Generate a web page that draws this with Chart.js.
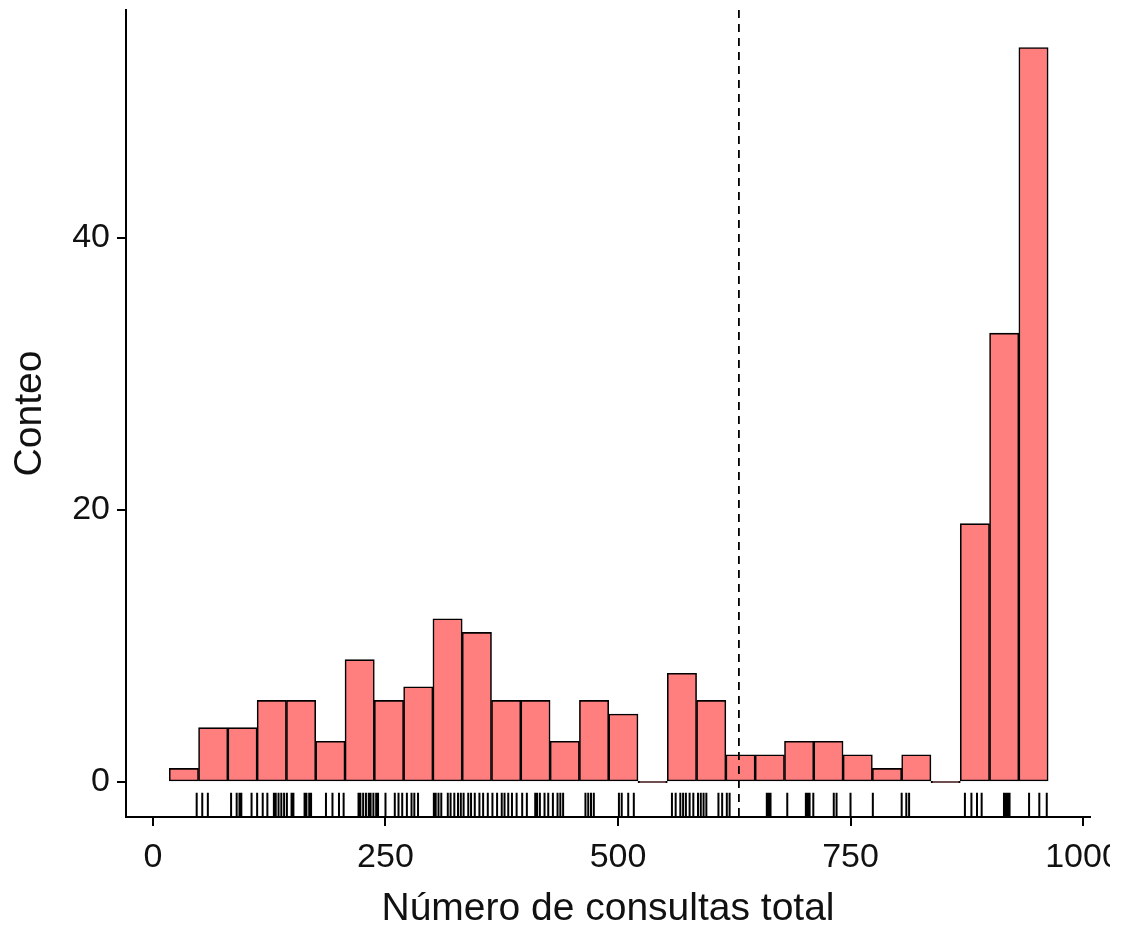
<!DOCTYPE html>
<html lang="es">
<head>
    <meta charset="UTF-8">
    <meta name="viewport" content="width=device-width, initial-scale=1.0">
    <title>Número de consultas total</title>
    <style type="text/css">
        html, body { margin:0; padding:0; background:#fff; }
        .chartBox { width:1110px; height:928px; overflow:hidden; }
        canvas { display:block; }
    </style>
</head>
<body>

<div class="chartBox">
    <canvas id="myChart" width="1124" height="928"></canvas>
</div>

<script src="https://cdn.jsdelivr.net/npm/chart.js"></script>
<script>
// centro de cada intervalo del histograma (30 intervalos)
const binCenters = [33.25, 64.75, 96.25, 127.75, 159.25, 190.75, 222.25, 253.75, 285.25, 316.75,
                    348.25, 379.75, 411.25, 442.75, 474.25, 505.75, 537.25, 568.75, 600.25, 631.75,
                    663.25, 694.75, 726.25, 757.75, 789.25, 820.75, 852.25, 883.75, 915.25, 946.75];
const counts = [1, 4, 4, 6, 6, 3, 9, 6, 7, 12,
                11, 6, 6, 3, 6, 5, 0, 8, 6, 2,
                2, 3, 3, 2, 1, 2, 0, 19, 33, 54];

// valores individuales para el rug
const consultas = [47, 53, 59, 84, 90, 93, 95, 106, 112, 118, 123, 130, 132, 135, 138, 141, 144, 149,
                   151, 163, 165, 168, 170, 186, 193, 200, 205, 221, 223, 226, 229, 232, 234, 237, 240,
                   242, 250, 260, 264, 268, 273, 278, 281, 285, 302, 304, 307, 310, 317, 320, 324, 328,
                   331, 334, 339, 342, 346, 351, 355, 360, 365, 370, 375, 378, 382, 386, 391, 397, 402,
                   411, 413, 416, 421, 425, 430, 435, 438, 441, 465, 468, 471, 474, 501, 504, 511, 517,
                   558, 562, 567, 570, 573, 577, 581, 586, 589, 592, 595, 608, 612, 617, 620, 660, 662,
                   664, 682, 702, 704, 706, 710, 732, 735, 750, 774, 805, 810, 813, 873, 880, 886, 891,
                   915, 917, 919, 921, 942, 953, 961];
const meanConsultas = 630;

const xTicks = [0, 250, 500, 750, 1000];
const yTicks = [0, 20, 40];

const histData = binCenters.map((c, i) => ({ x: c, y: counts[i] }));

// rug en la base del panel + línea discontinua de la media
const rugPlugin = {
    id: 'rugMean',
    afterDatasetsDraw(chart) {
        const { ctx, chartArea, scales } = chart;
        const len = (chartArea.bottom - chartArea.top) * 0.03;
        ctx.save();
        ctx.strokeStyle = '#000';
        ctx.lineWidth = 2;
        ctx.beginPath();
        consultas.forEach(v => {
            const x = scales.x.getPixelForValue(v);
            ctx.moveTo(x, chartArea.bottom);
            ctx.lineTo(x, chartArea.bottom - len);
        });
        ctx.stroke();

        const mx = scales.x.getPixelForValue(meanConsultas);
        ctx.setLineDash([8, 6]);
        ctx.lineWidth = 1.8;
        ctx.beginPath();
        ctx.moveTo(mx, chartArea.top);
        ctx.lineTo(mx, chartArea.bottom);
        ctx.stroke();
        ctx.restore();
    }
};

const font = { family: "'Liberation Sans', Arial, sans-serif" };
const textColor = '#111';

// ejes sin márgenes extra: el área del gráfico queda fija
const noPad = s => { s.paddingTop = 0; s.paddingBottom = 0; s.paddingLeft = 0; s.paddingRight = 0; };

const ctx = document.getElementById('myChart').getContext('2d');
const myChart = new Chart(ctx, {
    type: 'bar',
    data: {
        datasets: [{
            data: histData,
            backgroundColor: '#FF7F7F',
            borderColor: '#000',
            borderWidth: 1.6,
            borderSkipped: false,
            minBarLength: 1.5,
            barPercentage: 1,
            categoryPercentage: 1
        }]
    },
    options: {
        responsive: false,
        animation: false,
        layout: { padding: { top: 10, right: 34, left: 0, bottom: 0 } },
        plugins: { legend: { display: false }, tooltip: { enabled: false } },
        scales: {
            x: {
                type: 'linear',
                offset: false,
                min: -29,
                max: 1007.5,
                afterBuildTicks: s => { s.ticks = xTicks.map(v => ({ value: v })); },
                afterFit: s => { s.height = 111; noPad(s); },
                grid: { offset: false, drawOnChartArea: false, drawTicks: true, tickLength: 9, color: '#000', lineWidth: 2 },
                border: { display: true, color: '#000', width: 2 },
                ticks: { color: textColor, padding: 11, font: { ...font, size: 34 }, callback: v => String(v) },
                title: {
                    display: true,
                    text: 'Número de consultas total',
                    color: textColor,
                    font: { ...font, size: 39, lineHeight: 0.95 },
                    padding: { top: 0, bottom: 0 }
                }
            },
            y: {
                min: -2.57,
                max: 56.76,
                afterBuildTicks: s => { s.ticks = yTicks.map(v => ({ value: v })); },
                afterFit: s => { s.width = 126; noPad(s); },
                grid: { drawOnChartArea: false, drawTicks: true, tickLength: 9, color: '#000', lineWidth: 2 },
                border: { display: true, color: '#000', width: 2 },
                ticks: { color: textColor, padding: 7, font: { ...font, size: 34 } },
                title: {
                    display: true,
                    text: 'Conteo',
                    color: textColor,
                    font: { ...font, size: 39 },
                    padding: { top: 7, bottom: 0 }
                }
            }
        }
    },
    plugins: [rugPlugin]
});
</script>

</body>
</html>
